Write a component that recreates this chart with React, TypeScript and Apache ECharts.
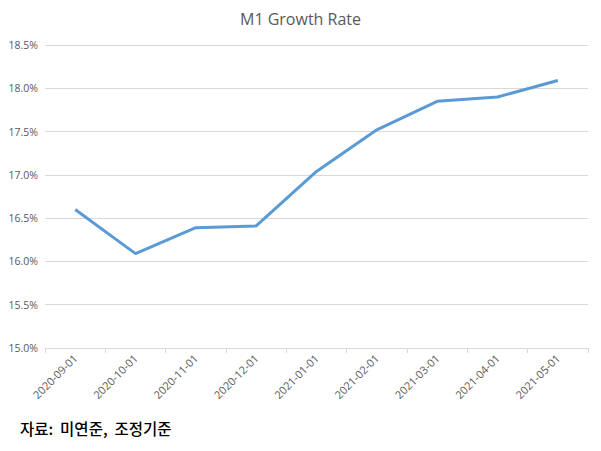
import React, { useEffect, useRef } from "react";
import * as echarts from "echarts";

const categories = [
  "2020-09-01", "2020-10-01", "2020-11-01", "2020-12-01", "2021-01-01",
  "2021-02-01", "2021-03-01", "2021-04-01", "2021-05-01",
];
const m1Growth = [16.6, 16.09, 16.39, 16.41, 17.04, 17.52, 17.85, 17.9, 18.09];
const titleText = "M1 Growth Rate";
const sourceText = "자료:  미연준,  조정기준";

export default function App() {
  const ref = useRef<HTMLDivElement>(null);
  useEffect(() => {
    if (!ref.current) return;
    const chart = echarts.init(ref.current, undefined, { renderer: "svg" });
    chart.setOption({
      animation: false,
      backgroundColor: "#ffffff",
      title: {
        text: titleText,
        left: "center",
        top: 6,
        textStyle: { fontFamily: "Open Sans", fontSize: 16, fontWeight: "normal", color: "#595959" },
      },
      grid: { left: 45, right: 13, top: 45, bottom: 103, containLabel: false },
      xAxis: {
        type: "category",
        data: categories,
        boundaryGap: true,
        axisLine: { lineStyle: { color: "#d9d9d9" } },
        axisTick: { show: true, length: 5, lineStyle: { color: "#d9d9d9" } },
        axisLabel: {
          rotate: 45,
          fontFamily: "Open Sans",
          fontSize: 11,
          color: "#595959",
          margin: 8,
        },
      },
      yAxis: {
        type: "value",
        min: 15,
        max: 18.5,
        interval: 0.5,
        axisLine: { show: false },
        axisTick: { show: false },
        splitLine: { lineStyle: { color: "#d9d9d9" } },
        axisLabel: {
          formatter: (v: number) => v.toFixed(1) + "%",
          fontFamily: "Open Sans",
          fontSize: 10.5,
          color: "#595959",
          margin: 7,
        },
      },
      series: [
        {
          type: "line",
          data: m1Growth,
          symbol: "none",
          lineStyle: { color: "#5b9bd5", width: 3 },
        },
      ],
      graphic: [
        {
          type: "text",
          left: 20,
          top: 420,
          style: {
            text: sourceText,
            fontFamily: "Noto Sans CJK KR",
            fontSize: 15.5,
            fontWeight: 500,
            fill: "#000000",
          },
        },
      ],
    });
    return () => chart.dispose();
  }, []);
  return (
    <div
      ref={ref}
      style={{ position: "fixed", left: 0, top: 0, width: 601, height: 451 }}
    />
  );
}
